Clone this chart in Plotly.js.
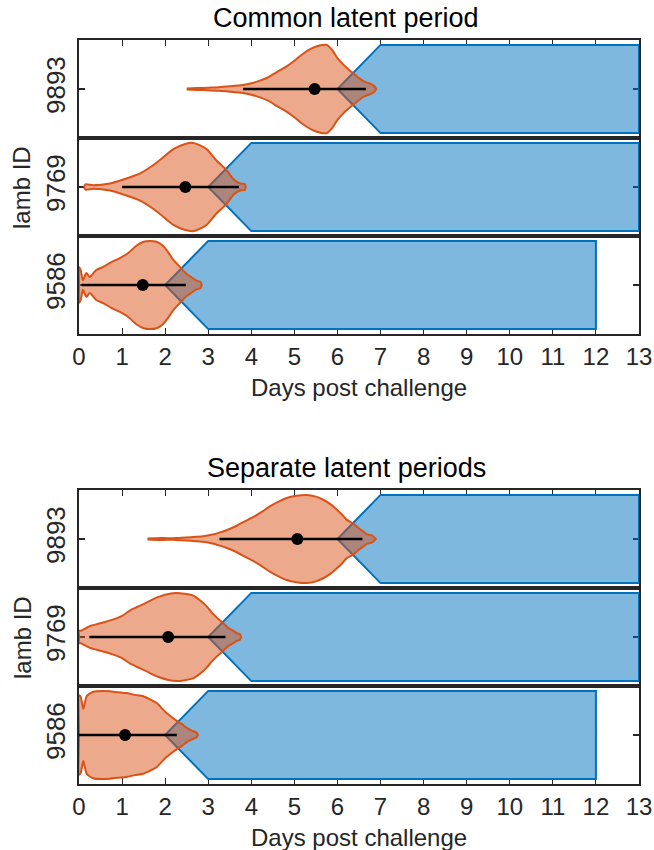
<!DOCTYPE html>
<html><head><meta charset="utf-8">
<script src="https://cdn.plot.ly/plotly-3.0.1.min.js"></script>
<style>html,body{margin:0;padding:0;background:#fff}</style>
</head><body><div id="chart" style="width:654px;height:850px"></div>
<script>
// ---------------- data ----------------
const lambIds = ['9893', '9769', '9586'];
const panelTitles = ['Common latent period', 'Separate latent periods'];
const xTitle = 'Days post challenge';
const yTitle = 'lamb ID';
const xTickVals = [0,1,2,3,4,5,6,7,8,9,10,11,12,13];

// infectious period: earliest onset, full onset, end (days)
const infStart = [6, 3, 2];
const infFull  = [7, 4, 3];
const infEnd   = [13, 13, 12];

// latent period summaries (median, 95% interval) per lamb
const commonMedian = [5.47, 2.47, 1.48];
const commonLow    = [3.81, 1.00, 0.06];
const commonHigh   = [6.66, 3.71, 2.48];
const sepMedian = [5.07, 2.07, 1.07];
const sepLow    = [3.26, 0.24, 0.00];
const sepHigh   = [6.58, 3.40, 2.27];

// violin density profiles (days, relative width) - common latent period
const commonDays9893 = [2.50,2.75,3.00,3.25,3.50,3.80,4.00,4.20,4.40,4.60,4.80,5.00,5.20,5.40,5.60,5.75,5.88,6.00,6.12,6.25,6.37,6.50,6.60,6.70,6.78,6.85,6.90];
const commonDens9893 = [0.01,0.02,0.03,0.04,0.06,0.09,0.13,0.19,0.27,0.39,0.50,0.64,0.80,0.92,0.99,1.00,0.88,0.70,0.57,0.45,0.35,0.25,0.18,0.14,0.11,0.07,0.00];
const commonDays9769 = [0.12,0.15,0.33,0.72,1.03,1.42,1.80,2.19,2.45,2.65,2.80,2.96,3.20,3.41,3.58,3.74,3.85,3.87];
const commonDens9769 = [0.00,0.06,0.04,0.08,0.17,0.31,0.55,0.86,0.97,1.00,0.95,0.86,0.59,0.40,0.18,0.08,0.07,0.00];
const commonDays9586 = [0.00,0.00,0.04,0.09,0.17,0.25,0.40,0.56,0.75,0.95,1.15,1.33,1.50,1.64,1.80,1.95,2.08,2.18,2.36,2.50,2.62,2.73,2.82,2.85];
const commonDens9586 = [0.00,0.41,0.34,0.11,0.27,0.18,0.34,0.41,0.52,0.61,0.73,0.89,0.98,1.00,0.98,0.89,0.73,0.58,0.39,0.25,0.17,0.10,0.07,0.00];

// violin density profiles - separate latent periods
const sepDays9893 = [1.59,1.90,2.26,2.60,2.88,3.10,3.27,3.45,3.66,3.85,4.05,4.25,4.43,4.62,4.82,5.05,5.28,5.50,5.67,5.85,5.98,6.10,6.21,6.37,6.50,6.60,6.68,6.80,6.89];
const sepDens9893 = [0.01,0.02,0.02,0.04,0.06,0.10,0.15,0.21,0.30,0.40,0.50,0.62,0.74,0.84,0.93,0.98,1.00,0.96,0.89,0.78,0.67,0.56,0.44,0.35,0.24,0.17,0.11,0.08,0.00];
const sepDays9769 = [0.00,0.00,0.05,0.12,0.26,0.41,0.60,0.80,1.00,1.18,1.35,1.57,1.75,1.88,2.05,2.27,2.45,2.65,2.80,2.96,3.08,3.20,3.35,3.47,3.58,3.66,3.74,3.76];
const sepDens9769 = [0.00,0.14,0.14,0.18,0.25,0.29,0.34,0.40,0.48,0.60,0.68,0.78,0.87,0.92,0.97,1.00,0.98,0.94,0.84,0.70,0.56,0.44,0.31,0.20,0.14,0.09,0.06,0.00];
const sepDays9586 = [0.00,0.00,0.04,0.10,0.18,0.33,0.56,0.72,0.90,1.10,1.30,1.49,1.65,1.80,1.92,2.03,2.15,2.27,2.40,2.50,2.62,2.73,2.76];
const sepDens9586 = [0.00,0.90,0.86,0.59,0.88,0.98,1.00,0.99,0.97,0.95,0.91,0.88,0.81,0.73,0.61,0.50,0.41,0.32,0.24,0.16,0.10,0.05,0.00];

const commonViolins = [[commonDays9893, commonDens9893],[commonDays9769, commonDens9769],[commonDays9586, commonDens9586]];
const sepViolins = [[sepDays9893, sepDens9893],[sepDays9769, sepDens9769],[sepDays9586, sepDens9586]];

// ---------------- style ----------------
const H = 0.45;                 // half height of shapes in row units
const FONT = 'Liberation Sans, Arial, Helvetica, sans-serif';
const TXT = '#262626';
const W = 654, HT = 850;
const xDom = [79/W, 639/W];
const panelTopPx = [40, 490];
const rowPx = 98;
const titleCenterPx = 346;

const panels = [
  {violins: commonViolins, med: commonMedian, lo: commonLow, hi: commonHigh},
  {violins: sepViolins, med: sepMedian, lo: sepLow, hi: sepHigh}
];

const traces = [];
const layout = {
  width: W, height: HT,
  margin: {l:0, r:0, t:0, b:0},
  paper_bgcolor: '#fff', plot_bgcolor: '#fff',
  showlegend: false,
  font: {family: FONT, color: TXT, size: 24},
  annotations: []
};

panels.forEach((pd, p) => {
  for (let r = 0; r < 3; r++) {
    const idx = p*3 + r + 1;
    const xs = idx === 1 ? '' : String(idx);
    const xa = 'x' + xs, ya = 'y' + xs;
    // infectious period (blue)
    const s = infStart[r], f = infFull[r], e = infEnd[r];
    traces.push({
      type: 'scatter', mode: 'lines', xaxis: xa, yaxis: ya,
      x: [s, f, e, e, f, s], y: [0, H, H, -H, -H, 0],
      fill: 'toself', fillcolor: 'rgba(0,114,189,0.5)',
      line: {color: '#0072BD', width: 2}, hoverinfo: 'skip'
    });
    // latent period violin (orange)
    const [days, dens] = pd.violins[r];
    const vx = days.concat(days.slice().reverse());
    const vy = dens.map(d => d*H).concat(dens.slice().reverse().map(d => -d*H));
    traces.push({
      type: 'scatter', mode: 'lines', xaxis: xa, yaxis: ya,
      x: vx, y: vy, fill: 'toself', fillcolor: 'rgba(217,83,25,0.5)',
      line: {color: '#D95319', width: 2, shape: 'spline', smoothing: 0.6}, hoverinfo: 'skip'
    });
    // interval
    traces.push({
      type: 'scatter', mode: 'lines', xaxis: xa, yaxis: ya,
      x: [pd.lo[r], pd.hi[r]], y: [0, 0],
      line: {color: '#000', width: 2.5}, hoverinfo: 'skip'
    });
    // median
    traces.push({
      type: 'scatter', mode: 'markers', xaxis: xa, yaxis: ya,
      x: [pd.med[r]], y: [0],
      marker: {color: '#000', size: 12}, hoverinfo: 'skip'
    });

    const topPx = panelTopPx[p] + rowPx*r;
    const botPx = topPx + rowPx;
    layout['xaxis' + xs] = {
      domain: xDom, range: [0, 13], anchor: ya,
      showline: true, mirror: true, linecolor: TXT, linewidth: 1.7,
      layer: 'below traces', showgrid: false, zeroline: false,
      tickmode: 'array', tickvals: xTickVals,
      ticks: (r === 1) ? '' : 'inside', ticklen: 6, tickcolor: TXT, tickwidth: 1,
      side: r === 0 ? 'top' : 'bottom',
      showticklabels: r === 2,
      tickfont: {family: FONT, size: 24, color: TXT},
      fixedrange: true
    };
    layout['yaxis' + xs] = {
      domain: [1 - botPx/HT, 1 - topPx/HT], range: [-0.5, 0.5], anchor: xa,
      showline: true, mirror: 'ticks', linecolor: TXT, linewidth: 1.7,
      layer: 'below traces', showgrid: false, zeroline: false,
      tickmode: 'array', tickvals: [0], ticktext: [lambIds[r]],
      ticks: 'inside', ticklen: 6, tickcolor: TXT, tickwidth: 1.5,
      tickangle: -90, ticklabelstandoff: 2,
      tickfont: {family: FONT, size: 26, color: TXT},
      fixedrange: true
    };
  }
  const cx = (xDom[0] + xDom[1]) / 2;
  layout.annotations.push({
    text: panelTitles[p], xref: 'paper', yref: 'paper', x: titleCenterPx/W,
    y: 1 - (panelTopPx[p] - 22)/HT, xanchor: 'center', yanchor: 'middle',
    showarrow: false, font: {family: FONT, size: 27, color: '#000'}
  });
  layout.annotations.push({
    text: xTitle, xref: 'paper', yref: 'paper', x: cx,
    y: 1 - (panelTopPx[p] + 3*rowPx + 53)/HT, xanchor: 'center', yanchor: 'middle',
    showarrow: false, font: {family: FONT, size: 24, color: TXT}
  });
  layout.annotations.push({
    text: yTitle, xref: 'paper', yref: 'paper', x: 22/W,
    y: 1 - (panelTopPx[p] + 1.5*rowPx)/HT, xanchor: 'center', yanchor: 'middle',
    textangle: -90, showarrow: false, font: {family: FONT, size: 24, color: TXT}
  });
});

Plotly.newPlot('chart', traces, layout, {staticPlot: true, displayModeBar: false});
</script>
</body></html>
